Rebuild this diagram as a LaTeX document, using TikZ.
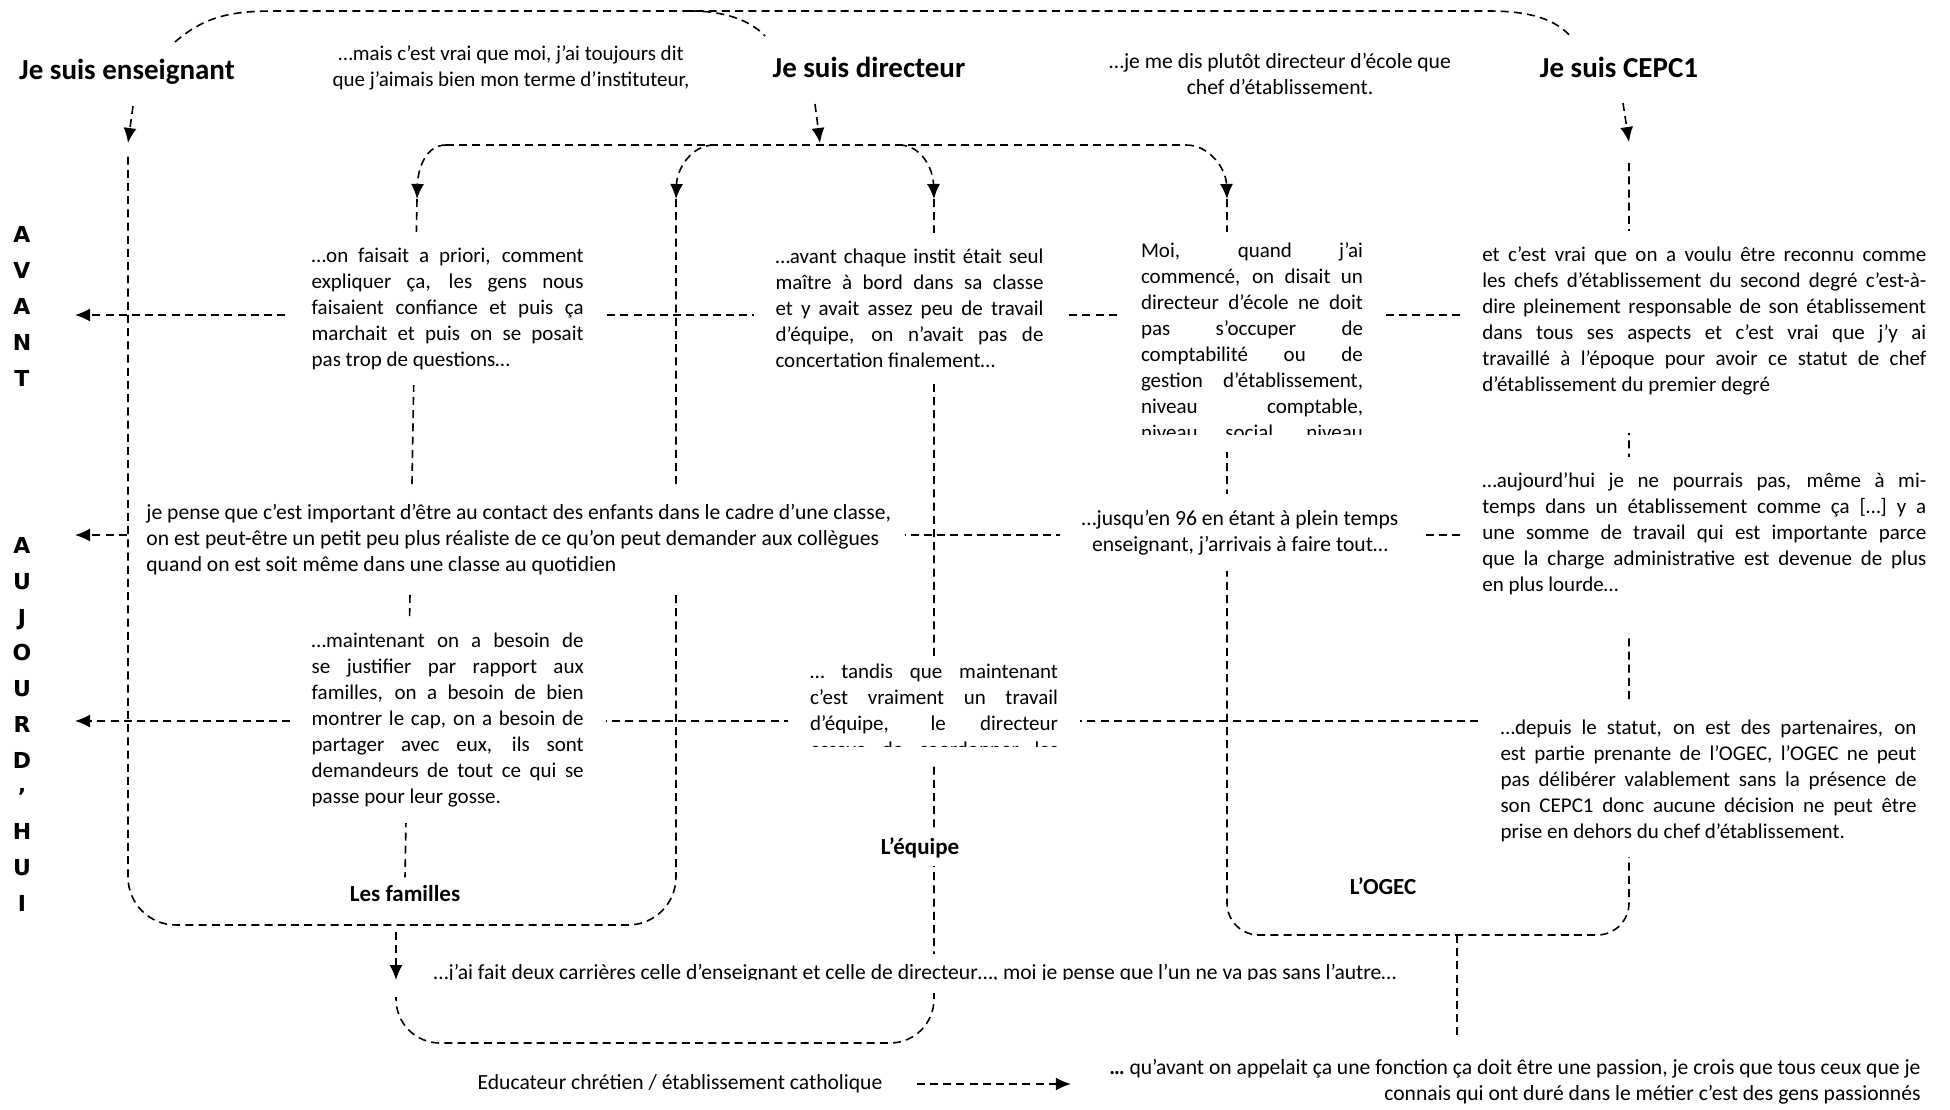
\documentclass[tikz,border=0pt]{standalone}
\usepackage{fontspec}
\setmainfont{Carlito}
\newfontfamily\sidefamily{DejaVu Sans}
\usetikzlibrary{arrows.meta,backgrounds}
\tolerance=10000
\hyphenpenalty=10000

\newcommand{\bodyfont}{\fontsize{10.5}{13}\selectfont}
\newcommand{\sayfont}{\fontsize{10.8}{13}\selectfont}
\newcommand{\headfont}{\fontsize{14.5}{17}\selectfont\bfseries}
\newcommand{\tagfont}{\fontsize{11.5}{14}\selectfont\bfseries}
\newcommand{\sidefont}{\sidefamily\fontsize{11}{17.9}\selectfont\bfseries}

\begin{document}
\begin{tikzpicture}[x=0.5pt,y=-0.5pt,>={Latex[length=7.5pt,width=6.5pt]},
  link/.style={line width=0.8pt,dash pattern=on 4pt off 2.6pt},
  head/.style={font=\headfont,inner sep=2pt},
  tag/.style={font=\tagfont,fill=white,inner sep=4pt},
  say/.style={font=\sayfont,align=center,inner sep=2pt},
  quote/.style={font=\bodyfont,fill=white,align=justify,inner xsep=11pt,inner ysep=8pt},
  side/.style={font=\sidefont,align=center,inner sep=0pt}]
\useasboundingbox (0,0) rectangle (1950,1109);

% titres
\node[head] (ens) at (127,72) {Je suis enseignant};
\node[head] (dir) at (869,67) {Je suis directeur};
\node[head] (cepc) at (1619,67) {Je suis CEPC1};
\node[say,font=\bodyfont] (qens) at (511,67.5) {…mais c’est vrai que moi, j’ai toujours dit\\que j’aimais bien mon terme d’instituteur,};
\node[say] (qdir) at (1280,74) {…je me dis plutôt directeur d’école que\\chef d’établissement.};

% avant / aujourd'hui
\node[side] (avant) at (22,306.5) {A\\V\\A\\N\\T};
\node[side] (auj) at (22,724.5) {A\\U\\J\\O\\U\\R\\D\\’\\H\\U\\I};

% ligne avant
\node[quote,text width=136pt] (famAv) at (447.7,308.5) {…on faisait a priori, comment\linebreak expliquer ça, les gens nous\linebreak faisaient confiance et puis ça\linebreak marchait et puis on se posait\linebreak pas trop de questions…};
\node[quote,text width=134pt] (equAv) at (909.5,308.5) {…avant chaque instit était seul\linebreak maître à bord dans sa classe\linebreak et y avait assez peu de travail\linebreak d’équipe, on n’avait pas de\linebreak concertation finalement…};
\node[quote,text width=111pt,inner ysep=5pt] (ogeAv) at (1252,342) {Moi, quand j’ai\linebreak commencé, on disait un\linebreak directeur d’école ne doit\linebreak pas s’occuper de\linebreak comptabilité ou de\linebreak gestion d’établissement,\linebreak niveau comptable,\linebreak\hbox to\hsize{niveau\hfill social,\hfill niveau}};
\node[quote,text width=222pt] (cepAv) at (1704.3,332) {et c’est vrai que on a voulu être reconnu comme\linebreak les chefs d’établissement du second degré c’est-à-\linebreak dire pleinement responsable de son établissement\linebreak dans tous ses aspects et c’est vrai que j’y ai\linebreak travaillé à l’époque pour avoir ce statut de chef\linebreak d’établissement du premier degré\par\mbox{}};

% ligne du milieu
\node[quote,font=\sayfont,align=left,inner xsep=7pt,anchor=west] (ensMid) at (132,539.5) {je pense que c’est important d’être au contact des enfants dans le cadre d’une classe,\\on est peut-être un petit peu plus réaliste de ce qu’on peut demander aux collègues\\quand on est soit même dans une classe au quotidien};
\node[quote,font=\sayfont,align=center] (ogeMid) at (1240,532.5) {…jusqu’en 96 en étant à plein temps\\enseignant, j’arrivais à faire tout…};
\node[quote,text width=222pt] (cepMid) at (1704.3,545) {…aujourd’hui je ne pourrais pas, même à mi-\linebreak temps dans un établissement comme ça […] y a\linebreak une somme de travail qui est importante parce\linebreak que la charge administrative est devenue de plus\linebreak en plus lourde…\par\mbox{}};

% ligne aujourd'hui
\node[quote,text width=136pt] (famAuj) at (447.7,720) {…maintenant on a besoin de\linebreak se justifier par rapport aux\linebreak familles, on a besoin de bien\linebreak montrer le cap, on a besoin de\linebreak partager avec eux, ils sont\linebreak demandeurs de tout ce qui se\linebreak passe pour leur gosse.};
\node[quote,text width=124pt,inner ysep=2pt] (equAuj) at (934,711.5) {… tandis que maintenant\linebreak c’est vraiment un travail\linebreak d’équipe, le directeur\linebreak\hbox to\hsize{essaye\hfill de\hfill coordonner\hfill les}};
\node[quote,text width=208pt] (cepAuj) at (1708.5,780.5) {…depuis le statut, on est des partenaires, on\linebreak est partie prenante de l’OGEC, l’OGEC ne peut\linebreak pas délibérer valablement sans la présence de\linebreak son CEPC1 donc aucune décision ne peut être\linebreak prise en dehors du chef d’établissement.};

% etiquettes
\node[tag] (fam) at (405,894) {Les familles};
\node[tag] (equ) at (920,848) {L’équipe};
\node[tag] (oge) at (1383,886) {L’OGEC};

% bas
\node[say,fill=white,inner xsep=3pt,inner ysep=5pt] (both) at (915,973.5) {…j’ai fait deux carrières celle d’enseignant et celle de directeur…, moi je pense que l’un ne va pas sans l’autre…};
\node[say] (educ) at (680,1084) {Educateur chrétien / établissement catholique};
\node[say,align=right,anchor=east] (passion) at (1925,1082) {\textbf{…} qu’avant on appelait ça une fonction ça doit être une passion, je crois que tous ceux que je\\connais qui ont duré dans le métier c’est des gens passionnés};

% textes coupes
\coordinate (cutMoi) at (0,435);
\coordinate (cutEqu) at (0,747);
\coordinate (cutBoth) at (0,980);
\fill[white] (ogeAv.west |- cutMoi) rectangle (ogeAv.south east);
\fill[white] (equAuj.west |- cutEqu) rectangle (equAuj.south east);
\fill[white] (both.west |- cutBoth) rectangle (both.south east);

\coordinate (a1) at (417,199);
\coordinate (a2) at (676,199);
\coordinate (a3) at (934,199);
\coordinate (a4) at (1227,199);
\coordinate (tipAv) at (75,315);
\coordinate (tipMid) at (75,535);
\coordinate (tipAuj) at (75,721);

\begin{pgfonlayer}{background}
% arc du haut
\draw[link] (175,42) .. controls (205,16) and (232,11) .. (275,11) -- (1488,11) .. controls (1530,11) and (1556,19) .. (1572,38);
\draw[link] (690,11) .. controls (726,11) and (751,21) .. (765,36);
% fleches des titres
\draw[link,->] (133,106) -- (128,143);
\draw[link,->] (815,104) -- (820,143);
\draw[link,->] (1623,103) -- (1629,142);
% accolade du directeur
\draw[link] (446,145) -- (1186,145);
\draw[link,->] (446,145) .. controls (426,145) and (418,168) .. (a1);
\draw[link,->] (714,145) .. controls (692,145) and (677,168) .. (a2);
\draw[link,->] (899,145) .. controls (921,145) and (933,168) .. (a3);
\draw[link,->] (1186,145) .. controls (1209,145) and (1226,168) .. (a4);
% colonnes
\draw[link] (a1) -- (fam.north);
\draw[link,rounded corners=24pt] (a2) -- (676,925) -- (128,925) -- (128,153);
\draw[link,rounded corners=22pt] (a3) -- (934,1043) -- (396,1043) -- (396,997);
\draw[link,rounded corners=16pt] (a4) -- (1227,935) -- (1629,935) -- (1629,162);
\draw[link] (1457,935) -- (1457,1040);
\draw[link,->] (396,932) -- (396,980);
% lignes
\draw[link,->] (cepAv.west |- tipAv) -- (tipAv);
\draw[link,->] (cepMid.west |- tipMid) -- (tipMid);
\draw[link,->] (cepAuj.west |- tipAuj) -- (tipAuj);
\draw[link,->,shorten <=15pt,shorten >=17pt] (educ.east) -- (educ.east -| passion.west);
\end{pgfonlayer}
\end{tikzpicture}
\end{document}
